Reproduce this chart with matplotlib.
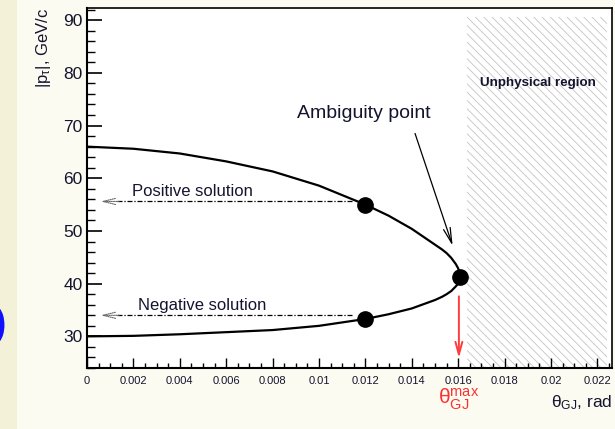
import matplotlib
matplotlib.use("Agg")
import matplotlib.pyplot as plt
from matplotlib.patches import Rectangle, Arc
from matplotlib.transforms import blended_transform_factory
from matplotlib.ticker import MultipleLocator, FixedLocator

# ---------------- data ----------------
theta_upper = [0.0, 0.002, 0.004, 0.006, 0.008, 0.010, 0.012, 0.013, 0.014,
               0.015, 0.0153, 0.0155, 0.0157, 0.0159, 0.0160, 0.01605, 0.01607]
p_upper = [66.0, 65.6, 64.7, 63.2, 61.3, 58.6, 55.0, 52.9, 50.4,
           47.4, 46.5, 45.8, 44.9, 43.7, 42.9, 42.1, 41.2]
theta_lower = [0.0, 0.002, 0.004, 0.006, 0.008, 0.010, 0.012, 0.013, 0.014,
               0.015, 0.0153, 0.0155, 0.0157, 0.0159, 0.0160, 0.01605, 0.01607]
p_lower = [30.0, 30.1, 30.4, 30.8, 31.2, 32.0, 33.3, 34.2, 35.3,
           36.9, 37.5, 38.0, 38.6, 39.5, 40.0, 40.6, 41.2]

point_theta = [0.012, 0.012, 0.01607]
point_p = [55.0, 33.3, 41.2]

solution_labels = ["Positive solution", "Negative solution"]
solution_levels = [55.6, 34.0]
solution_text_x = [0.00194, 0.0022]
solution_text_y = [57.5, 35.9]

theta_max = 0.01603
unphysical_start = 0.0164

xticks = [0, 0.002, 0.004, 0.006, 0.008, 0.01, 0.012, 0.014, 0.016, 0.018, 0.02, 0.022]
xtick_labels = ["0", "0.002", "0.004", "0.006", "0.008", "0.01", "0.012",
                "0.014", "0.016", "0.018", "0.02", "0.022"]
yticks = [30, 40, 50, 60, 70, 80, 90]

# ---------------- style ----------------
plt.rcParams["font.family"] = ["Liberation Sans", "DejaVu Sans"]
plt.rcParams["mathtext.fontset"] = "custom"
plt.rcParams["mathtext.rm"] = "Liberation Sans"
plt.rcParams["mathtext.it"] = "Liberation Sans:italic"
plt.rcParams["mathtext.bf"] = "Liberation Sans:bold"
plt.rcParams["hatch.linewidth"] = 0.6

txt = "#14142e"

fig = plt.figure(figsize=(6.15, 4.29), dpi=100)
fig.patch.set_facecolor("#fcfbf1")
# left beige strip of the slide
fig.patches.append(Rectangle((0, 0), 17 / 615, 1, transform=fig.transFigure,
                             facecolor="#f4f1d9", edgecolor="none", zorder=0))
# blue arc at the left edge of the slide
fig.patches.append(Arc((-6 / 615, 1 - 325 / 429), 16 / 615, 34 / 429,
                       theta1=-80, theta2=80, transform=fig.transFigure,
                       color="#1010ff", lw=3.5, zorder=1))

ax = fig.add_axes([87 / 615, 61 / 429, 525 / 615, 360.5 / 429])
ax.set_facecolor("white")
ax.set_xlim(0, 0.02263)
ax.set_ylim(24.0, 92.4)

# hatched unphysical region
ax.fill_between([unphysical_start, 0.0224], 24.0, 90.6, facecolor="none",
                edgecolor="#c4c4c4", hatch="\\\\\\\\", linewidth=0, zorder=1)
ax.text(0.01945, 78.0, "Unphysical region", fontsize=9.6, fontweight="bold",
        color=txt, ha="center", va="center", zorder=3)

# curve
ax.plot(theta_upper, p_upper, color="black", lw=1.6, zorder=4,
        solid_capstyle="round", solid_joinstyle="round")
ax.plot(theta_lower, p_lower, color="black", lw=1.6, zorder=4,
        solid_capstyle="round", solid_joinstyle="round")
ax.plot(point_theta, point_p, "o", color="black", ms=11, zorder=5)

# solution lines with small dotted arrow heads
for lab, lev, tx, ty in zip(solution_labels, solution_levels,
                            solution_text_x, solution_text_y):
    ax.plot([0.0013, 0.01142], [lev, lev], color="black", lw=0.9,
            linestyle=(0, (4, 1.5, 1, 1.5)), zorder=3)
    ax.annotate("", xy=(0.00047, lev), xytext=(0.0015, lev),
                arrowprops=dict(arrowstyle="->,head_length=0.9,head_width=0.22",
                                color="#666666", lw=0.8, linestyle=(0, (1, 1))),
                zorder=3)
    ax.text(tx, ty, lab, fontsize=12, color=txt, ha="left", va="center")

# ambiguity point
ax.text(0.00904, 72.3, "Ambiguity point", fontsize=14, color=txt,
        ha="left", va="center")
ax.annotate("", xy=(0.01576, 47.2), xytext=(0.01414, 68.5),
            arrowprops=dict(arrowstyle="->,head_length=1.1,head_width=0.25",
                            color="black", lw=0.9, shrinkA=0, shrinkB=0))

# red theta_max arrow
ax.annotate("", xy=(theta_max, 25.9), xytext=(theta_max, 37.6),
            arrowprops=dict(arrowstyle="->,head_length=0.9,head_width=0.25",
                            color="#ff3b3b", lw=1.4, shrinkA=0, shrinkB=0),
            zorder=6)

bt = blended_transform_factory(ax.transData, ax.transAxes)
ax.text(theta_max, -0.05, r"$\mathrm{θ}^{\mathrm{max}}_{\mathrm{GJ}}$",
        transform=bt, fontsize=15, color="#ff3030", ha="center", va="top")

# axis titles
ax.text(1.0, -0.108, r"$\mathrm{θ}_{\mathrm{GJ}}$, rad", transform=ax.transAxes,
        fontsize=12.5, color=txt, ha="right", va="baseline")
ax.text(-0.082, 1.0, r"|p$_{\mathrm{τ}}$|, GeV/c", transform=ax.transAxes,
        fontsize=12, color=txt, ha="center", va="top", rotation=90)

# ticks
ax.xaxis.set_major_locator(FixedLocator(xticks))
ax.set_xticklabels(xtick_labels)
ax.xaxis.set_minor_locator(MultipleLocator(0.0005))
ax.yaxis.set_major_locator(FixedLocator(yticks))
ax.yaxis.set_minor_locator(MultipleLocator(2))
ax.tick_params(axis="x", which="major", direction="in", length=7.2, width=1.0,
               labelsize=8, pad=6, labelcolor=txt, top=False)
ax.tick_params(axis="x", which="minor", direction="in", length=3.6, width=1.0,
               top=False)
ax.tick_params(axis="y", which="major", direction="in", length=10.8, width=1.2,
               labelsize=12.5, pad=3, labelcolor=txt, right=False)
ax.tick_params(axis="y", which="minor", direction="in", length=5.8, width=1.0,
               right=False)

for side in ["left", "bottom"]:
    ax.spines[side].set_linewidth(1.5)
for side in ["top", "right"]:
    ax.spines[side].set_linewidth(1.2)

fig.savefig("out.png", dpi=100, facecolor=fig.get_facecolor())
